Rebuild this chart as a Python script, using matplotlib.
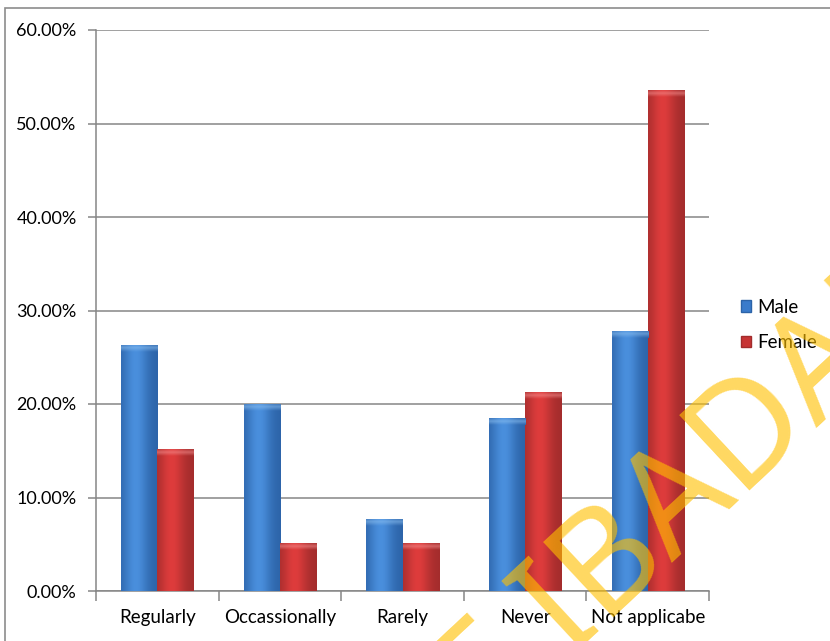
import numpy as np
import matplotlib.pyplot as plt
from matplotlib.patches import Patch, Rectangle
from matplotlib.colors import to_rgb

plt.rcParams['font.family'] = ['Lato', 'DejaVu Sans']

categories = ["Regularly", "Occassionally", "Rarely", "Never", "Not applicabe"]
male = [26.3, 20.0, 7.7, 18.5, 27.8]
female = [15.2, 5.1, 5.1, 21.3, 53.6]
y_ticks = [0, 10, 20, 30, 40, 50, 60]

GRID = "#868686"
BAR_W = 0.294

fig = plt.figure(figsize=(8.3, 6.41), dpi=100)
ax = fig.add_axes([96 / 830, 1 - 591 / 641, (709 - 96) / 830, (591 - 30) / 641])

x = np.arange(len(categories))
male_bars = ax.bar(x - BAR_W / 2, male, BAR_W, color="#3A7BCB", zorder=3)
female_bars = ax.bar(x + BAR_W / 2, female, BAR_W, color="#C73434", zorder=3)


def shade(bar, dark, light, cap):
    # cylinder-like horizontal gradient plus a lighter bevel at the top
    bx, bw, bh = bar.get_x(), bar.get_width(), bar.get_height()
    t = np.linspace(0, 1, 80)
    prof = np.exp(-((t - 0.4) / 0.33) ** 2)
    dark, light, cap = map(np.array, (to_rgb(dark), to_rgb(light), to_rgb(cap)))
    cols = dark + (light - dark) * prof[:, None]
    im = ax.imshow(cols[None, :, :], extent=(bx, bx + bw, 0, bh), aspect="auto",
                   interpolation="bilinear", zorder=3.1)
    im.set_clip_path(bar)
    # bevel height of ~7 px in data units
    dy = 7 * 60 / 561
    s = np.linspace(0, 1, 20)
    vert = np.clip(1 - np.abs(s - 0.45) / 0.55, 0, 1)
    band = cols[None, :, :] * (1 - vert[:, None, None] * 0.55) + cap * (vert[:, None, None] * 0.55)
    im2 = ax.imshow(band, extent=(bx, bx + bw, bh - dy, bh), aspect="auto",
                    interpolation="bilinear", zorder=3.2)
    im2.set_clip_path(bar)


for b in male_bars:
    shade(b, "#2C63A8", "#4A8FDD", "#8CC0F0")
for b in female_bars:
    shade(b, "#A22C2C", "#DE3C3C", "#F59090")

ax.set_xlim(-0.5, len(categories) - 0.5)
ax.set_ylim(0, 60)

ax.set_yticks(y_ticks)
ax.set_yticklabels([f"{v:.2f}%" for v in y_ticks])
ax.yaxis.grid(True, color=GRID, linewidth=1.1, zorder=0)
ax.set_axisbelow(True)

ax.set_xticks(np.arange(-0.5, len(categories), 1))
ax.set_xticklabels([])
ax.set_xticks(x, minor=True)
ax.set_xticklabels(categories, minor=True)
ax.tick_params(axis="x", which="major", direction="out", length=7, color=GRID, width=1.1)
ax.tick_params(axis="x", which="minor", length=0, pad=13, labelsize=13.5)
ax.tick_params(axis="y", direction="out", length=6, color=GRID, width=1.1, pad=8, labelsize=13)

for side in ("top", "right"):
    ax.spines[side].set_visible(False)
for side in ("left", "bottom"):
    ax.spines[side].set_color(GRID)
    ax.spines[side].set_linewidth(1.1)

handles = [Patch(facecolor="#3A7BCB", edgecolor="#2C63A8"),
           Patch(facecolor="#C73434", edgecolor="#A22C2C")]
fig.legend(handles, ["Male", "Female"], loc="center left",
           bbox_to_anchor=(741 / 830, 1 - 325 / 641), frameon=False,
           handlelength=0.55, handleheight=0.55, handletextpad=0.3,
           labelspacing=1.0, fontsize=13.5, borderpad=0, borderaxespad=0)

# outer chart frame
fig.patches.append(Rectangle((5 / 830, -0.2), 2, 1.2 - 8 / 641, transform=fig.transFigure,
                             fill=False, edgecolor="#8C8C8C", linewidth=1.2))

# library watermark
wm = dict(rotation=43, rotation_mode="anchor", va="baseline", fontsize=104,
          color="#FFC000", alpha=0.62, zorder=20, family="Noto Sans", fontweight="semibold")
fig.text(568 / 830, 1 - 660 / 641, "UNIVERSITY OF ", ha="right", **wm)
fig.text(568 / 830, 1 - 660 / 641, "IBADAN LIBRARY", ha="left", **wm)

fig.savefig("out.png", dpi=100)
